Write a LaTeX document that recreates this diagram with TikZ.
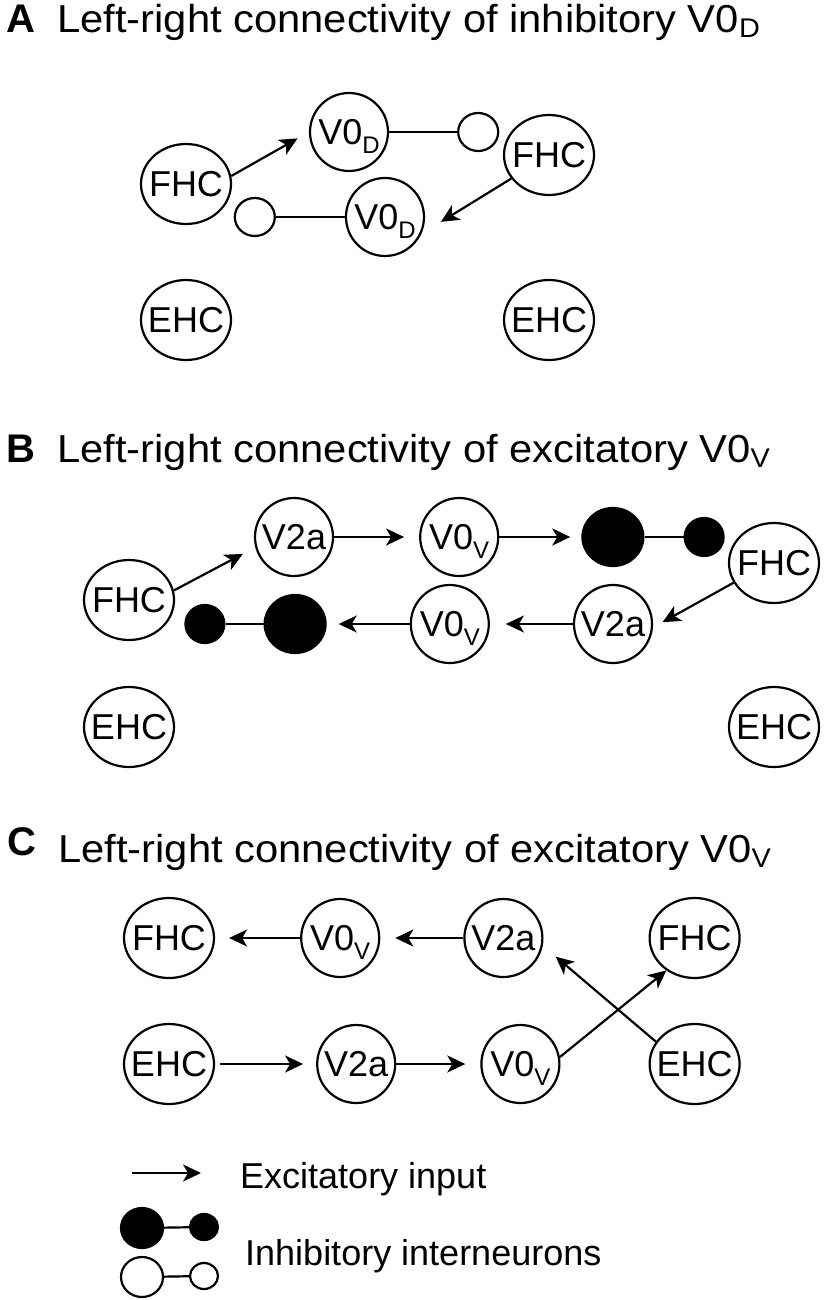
\documentclass[tikz,border=0pt]{standalone}
\usepackage{fontspec}
\setmainfont{Liberation Sans}
\newfontfamily\titlefont[FakeStretch=1.07]{Liberation Sans}
\usepackage{tikz}
\usetikzlibrary{positioning}
\usetikzlibrary{shapes.geometric, arrows.meta}
\newcommand{\nsub}[1]{\raisebox{-9pt}[0pt][0pt]{\fontsize{24}{24}\selectfont #1}}
\newcommand{\tsub}[1]{\raisebox{-5pt}{\fontsize{27}{27}\selectfont #1}}
\tikzstyle{hc} = [ellipse, minimum width=90pt, minimum height=80pt, inner sep=-14pt, draw=black, line width=2.2pt, font=\fontsize{36}{40}\selectfont]
\tikzstyle{cell} = [ellipse, minimum width=78pt, minimum height=78pt, inner sep=-14pt, draw=black, line width=2.2pt, font=\fontsize{36}{40}\selectfont]
\tikzstyle{opendot} = [ellipse, minimum width=40pt, minimum height=38pt, inner sep=0pt, draw=black, line width=2.2pt]
\tikzstyle{bigdot} = [ellipse, minimum width=61pt, minimum height=58pt, inner sep=0pt, draw=black, fill=black, line width=2.2pt]
\tikzstyle{smalldot} = [ellipse, minimum width=39pt, minimum height=38pt, inner sep=0pt, draw=black, fill=black, line width=2.2pt]
\tikzstyle{title} = [inner sep=0pt, anchor=base west, font=\titlefont\fontsize{39}{44}\selectfont]
\tikzstyle{panel} = [inner sep=0pt, anchor=base west, font=\bfseries\fontsize{40}{44}\selectfont]
\tikzstyle{legtext} = [inner sep=0pt, anchor=base west, font=\fontsize{36}{40}\selectfont]
\tikzstyle{inout} = [line width=2.2pt, -{Stealth[length=18pt, width=17pt, inset=5pt]}]
\tikzstyle{link} = [line width=2.2pt]

\begin{document}
\begin{tikzpicture}[x=1pt, y=-1pt]
	\useasboundingbox (0,0) rectangle (823,1300);
	% panel A
	\node (labA)[panel] at (6,33) {A};
	\node (titA)[title] at (57,33) {Left-right connectivity of inhibitory V0\tsub{D}};
	\node (fhcA1)[hc] at (186,184) {FHC};
	\node (v0dA1)[cell] at (349,132) {V0\nsub{D}};
	\node (dotA1)[opendot, right=68pt of v0dA1] {};
	\node (fhcA2)[hc] at (549,155) {FHC};
	\node (v0dA2)[cell] at (385,217) {V0\nsub{D}};
	\node (dotA2)[opendot, left=69pt of v0dA2] {};
	\node (ehcA1)[hc] at (186,320) {EHC};
	\node (ehcA2)[hc] at (549,320) {EHC};
	\draw [inout, shorten >=13pt] (fhcA1.10) -- (v0dA1.west);
	\draw [inout, shorten >=23pt] (fhcA2.212) -- (v0dA2.-25);
	\draw [link] (v0dA1) -- (dotA1);
	\draw [link] (dotA2) -- (v0dA2);
	% panel B
	\node (labB)[panel] at (6,462) {B};
	\node (titB)[title] at (57,462) {Left-right connectivity of excitatory V0\tsub{V}};
	\node (fhcB1)[hc] at (129,600) {FHC};
	\node (v2aB1)[cell] at (294,537) {V2a};
	\node (v0vB1)[cell, right=85pt of v2aB1] {V0\nsub{V}};
	\node (bigB1)[bigdot, right=82pt of v0vB1] {};
	\node (smallB1)[smalldot, right=39pt of bigB1] {};
	\node (fhcB2)[hc] at (774,563) {FHC};
	\node (v2aB2)[cell] at (613,624) {V2a};
	\node (v0vB2)[cell, left=83pt of v2aB2] {V0\nsub{V}};
	\node (bigB2)[bigdot, left=83pt of v0vB2] {};
	\node (smallB2)[smalldot, left=38pt of bigB2] {};
	\node (ehcB1)[hc] at (129,727) {EHC};
	\node (ehcB2)[hc] at (774,727) {EHC};
	\draw [inout, shorten >=14pt] (fhcB1.12) -- (v2aB1.195);
	\draw [inout, shorten >=15pt] (v2aB1) -- (v0vB1);
	\draw [inout, shorten >=11pt] (v0vB1) -- (bigB1);
	\draw [link] (bigB1) -- (smallB1);
	\draw [inout, shorten >=11pt] (fhcB2.206) -- (v2aB2.-5);
	\draw [inout, shorten >=16pt] (v2aB2) -- (v0vB2);
	\draw [inout, shorten >=12pt] (v0vB2) -- (bigB2);
	\draw [link] (bigB2) -- (smallB2);
	% panel C
	\node (labC)[panel] at (7,855) {C};
	\node (titC)[title] at (58,862) {Left-right connectivity of excitatory V0\tsub{V}};
	\node (fhcC1)[hc] at (169,938) {FHC};
	\node (v0vC1)[cell, right=85pt of fhcC1] {V0\nsub{V}};
	\node (v2aC1)[cell, right=83pt of v0vC1] {V2a};
	\node (fhcC2)[hc, right=105pt of v2aC1] {FHC};
	\node (ehcC1)[hc] at (169,1064) {EHC};
	\node (v2aC2)[cell, right=101pt of ehcC1] {V2a};
	\node (v0vC2)[cell, right=84pt of v2aC2] {V0\nsub{V}};
	\node (ehcC2)[hc, right=88pt of v0vC2] {EHC};
	\draw [inout, shorten >=14pt] (v0vC1) -- (fhcC1);
	\draw [inout, shorten >=15pt] (v2aC1) -- (v0vC1);
	\draw [inout, shorten <=5pt, shorten >=13pt] (ehcC1) -- (v2aC2);
	\draw [inout, shorten >=15pt] (v2aC2) -- (v0vC2);
	\draw [inout] (v0vC2.10) -- (fhcC2.229);
	\draw [inout, shorten >=17pt] (ehcC2.150) -- (v2aC1.-11);
	% legend
	\coordinate (exA) at (132,1173);
	\coordinate (exB) at (201,1173);
	\draw [inout] (exA) -- (exB);
	\node (exText)[legtext] at (240,1188) {Excitatory input};
	\node (legBig1)[bigdot, minimum width=42pt, minimum height=40pt] at (142,1228) {};
	\node (legSmall1)[smalldot, minimum width=28pt, minimum height=26pt] at (204,1227) {};
	\node (legBig2)[opendot, minimum width=42pt, minimum height=40pt] at (142,1277) {};
	\node (legSmall2)[opendot, minimum width=28pt, minimum height=26pt] at (204,1276) {};
	\draw [link] (legBig1) -- (legSmall1);
	\draw [link] (legBig2) -- (legSmall2);
	\node (inText)[legtext] at (245,1265) {Inhibitory interneurons};
\end{tikzpicture}
\end{document}
